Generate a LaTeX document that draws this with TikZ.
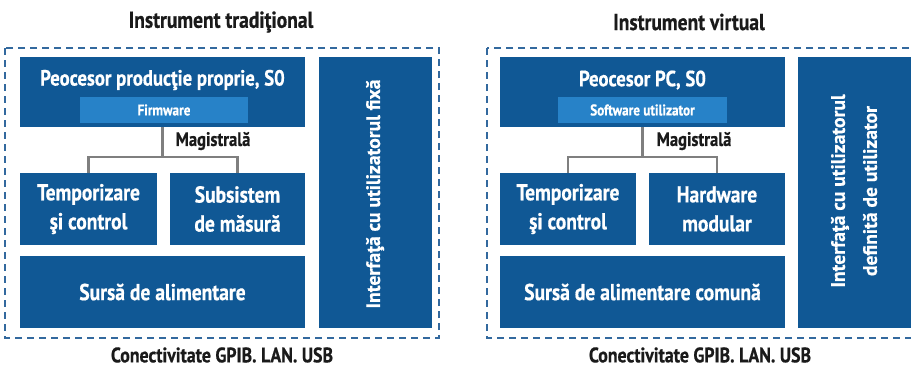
\documentclass[tikz,border=0pt]{standalone}
\usepackage{fontspec}
\newfontfamily\condfont[FakeStretch=0.85,FakeBold=0.6]{PT Sans}
\newfontfamily\widefont[FakeBold=0.6]{PT Sans}
\definecolor{boxblue}{HTML}{105895}
\definecolor{lightblue}{HTML}{2782C8}
\definecolor{dashblue}{HTML}{33699E}
\definecolor{busgray}{HTML}{7F7F7F}
\definecolor{inkblack}{HTML}{1A1A1A}
\begin{document}
\begin{tikzpicture}[x=1pt,y=-1pt,
  blk/.style={fill=boxblue,draw=none,inner sep=0pt,text=white,
    font=\condfont\bfseries\fontsize{23}{29}\selectfont,align=center},
  subblk/.style={fill=lightblue,draw=none,inner sep=0pt,text=white,
    font=\condfont\bfseries\fontsize{15.5}{18}\selectfont},
  boxtext/.style={text=white,inner sep=0pt,
    font=\condfont\bfseries\fontsize{22}{26}\selectfont},
  vtext/.style={text=white,inner sep=0pt,rotate=90,align=center,
    font=\widefont\bfseries\fontsize{19.5}{32}\selectfont},
  heading/.style={text=inkblack,inner sep=0pt,
    font=\condfont\bfseries\fontsize{23}{27}\selectfont},
  footer/.style={text=inkblack,inner sep=0pt,
    font=\condfont\bfseries\fontsize{21}{24}\selectfont},
  buslabel/.style={text=inkblack,inner sep=0pt,
    font=\condfont\bfseries\fontsize{19.5}{23}\selectfont},
  bus/.style={draw=busgray,line width=2.6pt},
  frame/.style={draw=dashblue,line width=2.6pt,dash pattern=on 7pt off 5pt}]
\clip (0,0) rectangle (911,367);
\fill[white] (0,0) rectangle (911,367);

% ---------- left panel ----------
\node[heading] (titleL) at (221,22) {Instrument tradiţional};
\draw[frame] (5,48) rectangle (439,338);
\node[blk,minimum width=285pt,minimum height=70pt] (procL) at (162.5,92) {};
\node[boxtext] (procLtxt) at (162.5,80) {Peocesor producţie proprie, S0};
\node[subblk,minimum width=168pt,minimum height=26pt] (fwL) at (164,110) {Firmware};
\node[blk,minimum width=137pt,minimum height=72pt] (tempL) at (88.5,209) {Temporizare\\şi control};
\node[blk,minimum width=135pt,minimum height=72pt] (subsL) at (237.5,209) {Subsistem\\de măsură};
\node[blk,minimum width=285pt,minimum height=72pt] (sursaL) at (162.5,292) {Sursă de alimentare};
\node[blk,minimum width=113pt,minimum height=271pt] (ifaceL) at (375.5,192.5) {};
\node[vtext] (ifaceLtxt) at (375,194) {Interfaţă cu utilizatorul fixă};
\coordinate (busL) at (procL.south |- 0,157);
\draw[bus] (procL.south) -- (busL);
\draw[bus] (tempL.north) |- (busL) -| (subsL.north);
\node[buslabel] (magL) at (213,141) {Magistrală};
\node[footer] (connL) at (222,355) {Conectivitate GPIB. LAN. USB};

% ---------- right panel ----------
\node[heading] (titleR) at (689,22) {Instrument virtual};
\draw[frame] (487,48) rectangle (930,338);
\node[blk,minimum width=285pt,minimum height=70pt] (procR) at (642.5,92) {};
\node[boxtext] (procRtxt) at (642.5,80) {Peocesor PC, S0};
\node[subblk,minimum width=169pt,minimum height=26pt] (swR) at (642.5,110) {Software utilizator};
\node[blk,minimum width=136pt,minimum height=72pt] (tempR) at (568,209) {Temporizare\\şi control};
\node[blk,minimum width=136pt,minimum height=72pt] (hwR) at (717,209) {Hardware\\modular};
\node[blk,minimum width=285pt,minimum height=72pt] (sursaR) at (642.5,292) {Sursă de alimentare comună};
\node[blk,minimum width=116pt,minimum height=271pt] (ifaceR) at (856,192.5) {};
\node[vtext] (ifaceRtxt) at (854,191) {Interfaţă cu utilizatorul\\definită de utilizator};
\coordinate (busR) at (procR.south |- 0,157);
\draw[bus] (procR.south) -- (busR);
\draw[bus] (tempR.north) |- (busR) -| (hwR.north);
\node[buslabel] (magR) at (694,141) {Magistrală};
\node[footer] (connR) at (700,355) {Conectivitate GPIB. LAN. USB};
\end{tikzpicture}
\end{document}
